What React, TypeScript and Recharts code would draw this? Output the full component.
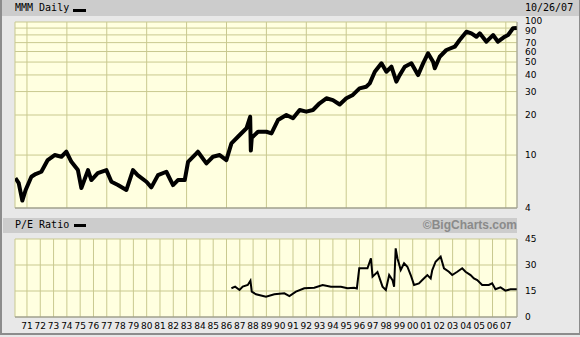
import React from 'react';
import { LineChart, Line, XAxis, YAxis, CartesianGrid, ReferenceLine } from 'recharts';

// ---- Data ----
const priceYears = [
  1970.13, 1970.38, 1970.65, 1970.9, 1971.33, 1971.65, 1972.08, 1972.56, 1973.08, 1973.59,
  1973.96, 1974.34, 1974.83, 1975.09, 1975.59, 1975.84, 1976.32, 1976.97, 1977.35, 1977.84,
  1978.47, 1978.97, 1979.32, 1979.98, 1980.35, 1980.85, 1981.48, 1981.98, 1982.35, 1982.86,
  1983.11, 1983.74, 1983.85, 1984.49, 1984.98, 1985.49, 1985.99, 1986.37, 1986.86, 1987.5,
  1987.78, 1987.83, 1987.9, 1988.37, 1989.0, 1989.38, 1989.87, 1990.5, 1991.0, 1991.5,
  1992.0, 1992.5, 1993.0, 1993.51, 1994.0, 1994.51, 1995.01, 1995.5, 1996.0, 1996.5,
  1996.77, 1997.15, 1997.65, 1998.02, 1998.4, 1998.77, 1999.02, 1999.4, 1999.9, 2000.4,
  2000.78, 2001.15, 2001.53, 2001.66, 2002.03, 2002.53, 2003.16, 2003.53, 2004.04, 2004.41,
  2004.79, 2005.04, 2005.54, 2006.04, 2006.41, 2006.92, 2007.17, 2007.54, 2007.82,
];
const priceValues = [
  6.71, 6.16, 4.55, 5.46, 6.87, 7.2, 7.49, 9.17, 10.0, 9.71,
  10.59, 8.9, 7.71, 5.65, 7.71, 6.49, 7.32, 7.71, 6.3, 5.95,
  5.46, 7.71, 7.07, 6.3, 5.72, 7.07, 7.49, 5.95, 6.49, 6.49,
  8.9, 10.3, 10.59, 8.66, 9.71, 10.0, 9.17, 12.25, 13.73, 15.9,
  19.4, 10.8, 13.5, 14.97, 14.97, 14.56, 18.33, 20.0, 18.9, 21.8,
  21.2, 21.8, 24.5, 26.7, 25.9, 24.0, 26.7, 28.3, 31.7, 32.6,
  34.6, 42.3, 48.9, 42.3, 46.1, 35.6, 39.9, 46.1, 48.9, 39.9,
  48.9, 58.2, 50.3, 44.9, 54.8, 61.6, 65.2, 73.2, 84.5, 82.2,
  77.5, 82.2, 71.1, 79.8, 71.1, 77.5, 79.8, 89.7, 90.0,
];

const peYears = [
  1986.37, 1986.65, 1986.98, 1987.22, 1987.6, 1987.8, 1987.9, 1988.22, 1988.97, 1989.6,
  1990.35, 1990.73, 1991.22, 1991.85, 1992.6, 1993.23, 1993.85, 1994.6, 1995.1, 1995.6,
  1995.8, 1995.98, 1996.6, 1996.86, 1996.98, 1997.35, 1997.73, 1997.98, 1998.23, 1998.48,
  1998.6, 1998.72, 1998.85, 1999.1, 1999.35, 1999.6, 1999.85, 2000.1, 2000.47, 2000.72,
  2001.1, 2001.35, 2001.47, 2001.72, 2002.1, 2002.35, 2002.72, 2002.97, 2003.35, 2003.72,
  2003.97, 2004.35, 2004.6, 2004.85, 2005.22, 2005.72, 2005.97, 2006.22, 2006.6, 2006.97,
  2007.35, 2007.82,
];
const peValues = [
  16.6, 17.5, 15.6, 17.5, 18.5, 21.0, 14.6, 13.1, 11.7, 13.1,
  13.7, 12.1, 14.6, 16.6, 16.9, 18.5, 17.5, 17.5, 16.6, 16.9,
  16.5, 28.1, 28.1, 33.9, 23.3, 26.0, 17.5, 15.6, 24.2, 21.3,
  17.5, 39.6, 33.9, 27.1, 31.0, 29.0, 24.2, 18.5, 19.4, 21.3,
  24.2, 22.3, 27.1, 31.9, 34.8, 28.1, 26.1, 24.2, 26.1, 28.1,
  26.1, 24.2, 22.3, 21.3, 18.5, 18.5, 19.4, 16.0, 17.1, 15.2,
  16.0, 16.0,
];

const yearTicks = [
  1971, 1972, 1973, 1974, 1975, 1976, 1977, 1978, 1979, 1980,
  1981, 1982, 1983, 1984, 1985, 1986, 1987, 1988, 1989, 1990,
  1991, 1992, 1993, 1994, 1995, 1996, 1997, 1998, 1999, 2000,
  2001, 2002, 2003, 2004, 2005, 2006, 2007,
];
const yearLabels = [
  '71', '72', '73', '74', '75', '76', '77', '78', '79', '80',
  '81', '82', '83', '84', '85', '86', '87', '88', '89', '90',
  '91', '92', '93', '94', '95', '96', '97', '98', '99', '00',
  '01', '02', '03', '04', '05', '06', '07',
];
const priceTicks = [4, 10, 20, 30, 40, 50, 60, 70, 80, 90, 100];
const priceTickLabels = ['4', '10', '20', '30', '40', '50', '60', '70', '', '90', '100'];
const peTicks = [0, 15, 30, 45];

const X_DOMAIN: [number, number] = [1970.1, 2007.84];
const PRICE_DOMAIN: [number, number] = [4, 100];
const PE_DOMAIN: [number, number] = [0, 45];

const priceData = priceYears.map((t, i) => ({ t, v: priceValues[i] }));
const peData = peYears.map((t, i) => ({ t, v: peValues[i] }));

// ---- Styles ----
const BG = '#e8e8e8';
const BAR = '#cccccc';
const PLOT_BG = '#ffffe0';
const GRID = '#c9c98f';
const EDGE = '#8c8c8c';
const MONO = '"DejaVu Sans Mono", monospace';
const SANS = '"DejaVu Sans", Verdana, sans-serif';

const tickStyle = { fontSize: 9, fill: '#000', fontFamily: SANS };

// the two top labels sit very close in the reference; nudge them apart slightly
const labelNudge: Record<number, number> = { 100: -1, 90: 3 };

function PriceTick(props: any) {
  const { x, y, payload } = props;
  const value = payload.value as number;
  const label = priceTickLabels[priceTicks.indexOf(value)] ?? '';
  if (!label) return null;
  const dy = labelNudge[value] ?? 0;
  return (
    <text
      x={x}
      y={y + dy}
      dy="0.355em"
      textAnchor="start"
      fontSize={9}
      fontFamily={SANS}
      fill="#000"
    >
      {label}
    </text>
  );
}

export default function App() {
  return (
    <div
      style={{
        position: 'absolute',
        left: 0,
        top: 0,
        width: 580,
        height: 337,
        background: BG,
        overflow: 'hidden',
      }}
    >
      {/* outer frame */}
      <div
        style={{
          position: 'absolute',
          left: 0,
          top: 0,
          width: 580,
          height: 335,
          boxSizing: 'border-box',
          borderLeft: `2px solid ${EDGE}`,
          borderRight: `1px solid ${EDGE}`,
          borderBottom: `2px solid ${EDGE}`,
        }}
      />
      {/* top title bar */}
      <div
        style={{
          position: 'absolute',
          left: 2,
          top: 0,
          width: 577,
          height: 16,
          background: BAR,
        }}
      >
        <span
          style={{
            position: 'absolute',
            left: 13,
            top: 2,
            fontFamily: MONO,
            fontSize: 10,
            lineHeight: '12px',
            color: '#000',
          }}
        >
          MMM Daily
        </span>
        <span
          style={{ position: 'absolute', left: 71, top: 9, width: 13, height: 3, background: '#000' }}
        />
        <span
          style={{
            position: 'absolute',
            left: 523,
            top: 2,
            fontFamily: MONO,
            fontSize: 10,
            lineHeight: '12px',
            color: '#000',
          }}
        >
          10/26/07
        </span>
      </div>

      {/* upper chart: price, log scale */}
      <div style={{ position: 'absolute', left: 0, top: 0 }}>
        <LineChart
          width={580}
          height={215}
          data={priceData}
          margin={{ top: 22, right: 0, left: 15, bottom: 7 }}
        >
          <CartesianGrid stroke={GRID} fill={PLOT_BG} fillOpacity={1} />
          <XAxis
            type="number"
            dataKey="t"
            domain={X_DOMAIN}
            ticks={yearTicks}
            allowDataOverflow
            hide
          />
          <YAxis
            orientation="right"
            scale="log"
            domain={PRICE_DOMAIN}
            ticks={priceTicks}
            allowDataOverflow
            interval={0}
            width={63}
            axisLine={false}
            tickLine={false}
            tickSize={6}
            tickMargin={2}
            tick={<PriceTick />}
          />
          <ReferenceLine y={PRICE_DOMAIN[0]} stroke={EDGE} strokeWidth={1} ifOverflow="visible" />
          <ReferenceLine x={X_DOMAIN[1]} stroke="#a0a0a0" strokeWidth={1} ifOverflow="visible" />
          <Line
            type="linear"
            dataKey="v"
            stroke="#000"
            strokeWidth={4}
            strokeLinejoin="round"
            dot={false}
            isAnimationActive={false}
          />
        </LineChart>
      </div>

      {/* lower title bar */}
      <div
        style={{
          position: 'absolute',
          left: 3,
          top: 218,
          width: 514,
          height: 15,
          background: BAR,
        }}
      >
        <span
          style={{
            position: 'absolute',
            left: 12,
            top: 1,
            fontFamily: MONO,
            fontSize: 10,
            lineHeight: '12px',
            color: '#000',
          }}
        >
          P/E Ratio
        </span>
        <span
          style={{ position: 'absolute', left: 71, top: 6, width: 12, height: 3, background: '#000' }}
        />
        <span
          style={{
            position: 'absolute',
            right: 0,
            top: 0,
            fontFamily: '"Liberation Sans", Arial, sans-serif',
            fontWeight: 'bold',
            fontSize: 12,
            lineHeight: '15px',
            color: '#8a8a8a',
          }}
        >
          ©BigCharts.com
        </span>
      </div>

      {/* lower chart: P/E ratio */}
      <div style={{ position: 'absolute', left: 0, top: 230 }}>
        <LineChart
          width={580}
          height={105}
          data={peData}
          margin={{ top: 9, right: 0, left: 15, bottom: 0 }}
        >
          <CartesianGrid stroke={GRID} fill={PLOT_BG} fillOpacity={1} />
          <XAxis
            type="number"
            dataKey="t"
            domain={X_DOMAIN}
            ticks={yearTicks}
            allowDataOverflow
            interval={0}
            height={18}
            axisLine={false}
            tickLine={false}
            tickSize={4}
            tickMargin={2}
            tick={tickStyle}
            tickFormatter={(v: number) => yearLabels[yearTicks.indexOf(v)] ?? ''}
          />
          <YAxis
            orientation="right"
            domain={PE_DOMAIN}
            ticks={peTicks}
            allowDataOverflow
            interval={0}
            width={63}
            axisLine={false}
            tickLine={false}
            tickSize={6}
            tickMargin={2}
            tick={tickStyle}
          />
          <ReferenceLine y={PE_DOMAIN[0]} stroke={EDGE} strokeWidth={1} ifOverflow="visible" />
          <ReferenceLine x={X_DOMAIN[1]} stroke="#a0a0a0" strokeWidth={1} ifOverflow="visible" />
          <Line
            type="linear"
            dataKey="v"
            stroke="#000"
            strokeWidth={2}
            dot={false}
            isAnimationActive={false}
          />
        </LineChart>
      </div>
    </div>
  );
}
